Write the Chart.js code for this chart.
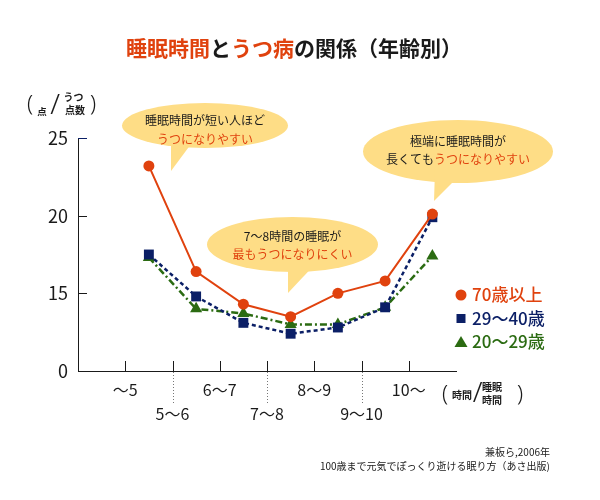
<!DOCTYPE html>
<html lang="ja">
<head>
<meta charset="utf-8">
<title>睡眠時間とうつ病の関係（年齢別）</title>
<script src="https://cdn.jsdelivr.net/npm/chart.js@4.4.1/dist/chart.umd.min.js"></script>
<style>
  html, body { margin: 0; padding: 0; background: #fff; }
  #wrap { width: 600px; height: 500px; }
</style>
</head>
<body>
<div id="wrap"><canvas id="grafico" width="600" height="500"></canvas></div>
<script>
// データ
const xTickValues = [1, 2, 3, 4, 5, 6, 7];
const xTickLabels = ['〜5', '5〜6', '6〜7', '7〜8', '8〜9', '9〜10', '10〜'];
const pointX = [1.5, 2.5, 3.5, 4.5, 5.5, 6.5, 7.5];
const yTickValues = [10, 15, 20, 25];
const yTickLabels = ['0', '15', '20', '25'];
const seriesNames = ['70歳以上', '29〜40歳', '20〜29歳'];
const over70 = [23.2, 16.4, 14.3, 13.5, 15.0, 15.8, 20.1];
const age29to40 = [17.5, 14.8, 13.1, 12.4, 12.8, 14.1, 19.9];
const age20to29 = [17.3, 14.0, 13.7, 13.0, 13.0, 14.1, 17.4];

const ORANGE = '#e0420e';
const NAVY = '#0b1f66';
const GREEN = '#2b6b12';
const INK = '#1a1a1a';
const BUBBLE = '#fedd86';
const FONT = '"Noto Sans CJK JP", "Noto Sans", sans-serif';

Chart.defaults.font.family = FONT;
Chart.defaults.color = INK;

// 吹き出し
const bubbles = [
    { cx: 205, cy: 125.5, rx: 83, ry: 22.5, tail: [[171, 140], [194, 140], [171, 171]],
      lines: [[120.5, [['睡眠時間が短い人ほど', INK]]], [139, [['うつになりやすい', ORANGE]]]] },
    { cx: 458, cy: 151.5, rx: 95, ry: 31.5, tail: [[435, 170], [465, 170], [434, 201]],
      lines: [[141.5, [['極端に睡眠時間が', INK]]], [159.5, [['長くても', INK], ['うつになりやすい', ORANGE]]]] },
    { cx: 292.5, cy: 244.5, rx: 85.5, ry: 27.5, tail: [[288, 260], [319, 260], [288, 293]],
      lines: [[236.5, [['7〜8時間の睡眠が', INK]]], [254.5, [['最もうつになりにくい', ORANGE]]]] }
];

function textRow(ctx, parts, cx, cy, font) {
    ctx.font = font;
    const w = parts.reduce((s, p) => s + ctx.measureText(p[0]).width, 0);
    let x = cx - w / 2;
    ctx.textAlign = 'left';
    ctx.textBaseline = 'middle';
    parts.forEach(p => {
        ctx.fillStyle = p[1];
        ctx.fillText(p[0], x, cy);
        x += ctx.measureText(p[0]).width;
    });
}

function text(ctx, s, x, y, font, align, color) {
    ctx.font = font;
    ctx.textAlign = align || 'center';
    ctx.textBaseline = 'middle';
    ctx.fillStyle = color || INK;
    ctx.fillText(s, x, y);
}

const decor = {
    id: 'decor',
    beforeDatasetsDraw(chart) {
        const ctx = chart.ctx;
        ctx.save();
        bubbles.forEach(b => {
            ctx.fillStyle = BUBBLE;
            ctx.beginPath();
            ctx.ellipse(b.cx, b.cy, b.rx, b.ry, 0, 0, Math.PI * 2);
            ctx.fill();
            ctx.beginPath();
            ctx.moveTo(b.tail[0][0], b.tail[0][1]);
            ctx.lineTo(b.tail[1][0], b.tail[1][1]);
            ctx.lineTo(b.tail[2][0], b.tail[2][1]);
            ctx.closePath();
            ctx.fill();
            b.lines.forEach(l => textRow(ctx, l[1], b.cx, l[0], '12px ' + FONT));
        });
        ctx.restore();
    },
    afterDraw(chart) {
        const ctx = chart.ctx;
        const area = chart.chartArea;
        const xs = chart.scales.x;
        const ys = chart.scales.y;
        ctx.save();

        // 目盛り（内向き）
        ctx.lineWidth = 1;
        yTickValues.slice(1).forEach(v => {
            const y = Math.round(ys.getPixelForValue(v)) + 0.5;
            ctx.strokeStyle = v === 25 ? NAVY : INK;
            ctx.beginPath();
            ctx.moveTo(area.left, y);
            ctx.lineTo(area.left + 9, y);
            ctx.stroke();
        });
        ctx.strokeStyle = INK;
        xTickValues.forEach(v => {
            const x = Math.round(xs.getPixelForValue(v)) + 0.5;
            ctx.beginPath();
            ctx.moveTo(x, area.bottom - 10);
            ctx.lineTo(x, area.bottom);
            ctx.stroke();
            if (v % 2 === 0) {
                ctx.save();
                ctx.strokeStyle = '#777';
                ctx.setLineDash([1, 2]);
                ctx.beginPath();
                ctx.moveTo(x, area.bottom + 1);
                ctx.lineTo(x, area.bottom + 33);
                ctx.stroke();
                ctx.restore();
            }
        });

        // タイトル
        textRow(ctx, [['睡眠時間', ORANGE], ['と', INK], ['うつ病', ORANGE], ['の関係（年齢別）', INK]],
            294, 48, 'bold 21px ' + FONT);

        // 縦軸の単位
        text(ctx, '(', 30, 105, '300 22px "Noto Sans"');
        text(ctx, '点', 42, 111.5, 'bold 9.5px ' + FONT);
        text(ctx, '/', 55, 106, '300 28px "Noto Sans"');
        text(ctx, 'うつ', 73.5, 97.5, 'bold 10px ' + FONT);
        text(ctx, '点数', 75, 110.5, 'bold 10px ' + FONT);
        text(ctx, ')', 93, 105, '300 22px "Noto Sans"');

        // 横軸の単位
        text(ctx, '(', 445, 395, '300 22px "Noto Sans"');
        text(ctx, '時間', 462, 395, 'bold 10px ' + FONT);
        text(ctx, '/', 477.5, 394, '300 28px "Noto Sans"');
        text(ctx, '睡眠', 492, 387.5, 'bold 10px ' + FONT);
        text(ctx, '時間', 492, 400.5, 'bold 10px ' + FONT);
        text(ctx, ')', 520, 395, '300 22px "Noto Sans"');

        // 凡例
        const legendY = [295, 318.5, 342];
        const colors = [ORANGE, NAVY, GREEN];
        const mx = 461;
        colors.forEach((c, i) => {
            const y = legendY[i];
            ctx.fillStyle = c;
            ctx.beginPath();
            if (i === 0) {
                ctx.arc(mx, y, 5.5, 0, Math.PI * 2);
            } else if (i === 1) {
                ctx.rect(mx - 4.5, y - 4.5, 9, 9);
            } else {
                ctx.moveTo(mx, y - 6);
                ctx.lineTo(mx + 6.5, y + 5);
                ctx.lineTo(mx - 6.5, y + 5);
                ctx.closePath();
            }
            ctx.fill();
            text(ctx, seriesNames[i], 472, y, '500 17px ' + FONT, 'left', c);
        });

        // 出典
        text(ctx, '兼板ら,2006年', 550, 452, '10px ' + FONT, 'right');
        text(ctx, '100歳まで元気でぽっくり逝ける眠り方（あさ出版)', 550, 466.5, '10px ' + FONT, 'right');

        ctx.restore();
    }
};

function toPoints(values) {
    return pointX.map((x, i) => ({ x: x, y: values[i] }));
}

new Chart(document.getElementById('grafico'), {
    type: 'line',
    data: {
        datasets: [
            {
                label: seriesNames[0],
                data: toPoints(over70),
                borderColor: ORANGE,
                backgroundColor: ORANGE,
                borderWidth: 2,
                pointStyle: 'circle',
                pointRadius: 5.5,
                pointBorderWidth: 0
            },
            {
                label: seriesNames[1],
                data: toPoints(age29to40),
                borderColor: NAVY,
                backgroundColor: NAVY,
                borderWidth: 2.5,
                borderDash: [4, 3],
                pointStyle: 'rect',
                pointRadius: 7,
                pointBorderWidth: 0
            },
            {
                label: seriesNames[2],
                data: toPoints(age20to29),
                borderColor: GREEN,
                backgroundColor: GREEN,
                borderWidth: 2.5,
                borderDash: [7, 3, 2, 3],
                pointStyle: 'triangle',
                pointRadius: 7,
                pointBorderWidth: 0
            }
        ]
    },
    options: {
        responsive: false,
        animation: false,
        events: [],
        clip: false,
        layout: { padding: { left: 0, top: 138, right: 144, bottom: 0 } },
        plugins: {
            legend: { display: false },
            tooltip: { enabled: false }
        },
        scales: {
            x: {
                type: 'linear',
                min: 0,
                max: 8,
                afterBuildTicks: scale => { scale.ticks = xTickValues.map(v => ({ value: v })); },
                afterFit: scale => { scale.height = 129; },
                grid: { display: false, drawTicks: false },
                border: { display: true, color: INK, width: 1 },
                ticks: {
                    autoSkip: false,
                    maxRotation: 0,
                    padding: 7,
                    color: INK,
                    font: { size: 16, lineHeight: 1.5 },
                    callback: v => {
                        const i = xTickValues.indexOf(v);
                        return i % 2 === 0 ? xTickLabels[i] : ['', xTickLabels[i]];
                    }
                }
            },
            y: {
                type: 'linear',
                min: 10,
                max: 25,
                afterBuildTicks: scale => { scale.ticks = yTickValues.map(v => ({ value: v })); },
                afterFit: scale => { scale.width = 78; },
                grid: { display: false, drawTicks: false },
                border: { display: true, color: INK, width: 1 },
                ticks: {
                    padding: 10,
                    color: INK,
                    font: { size: 18 },
                    callback: v => yTickLabels[yTickValues.indexOf(v)]
                }
            }
        }
    },
    plugins: [decor]
});
</script>
</body>
</html>
